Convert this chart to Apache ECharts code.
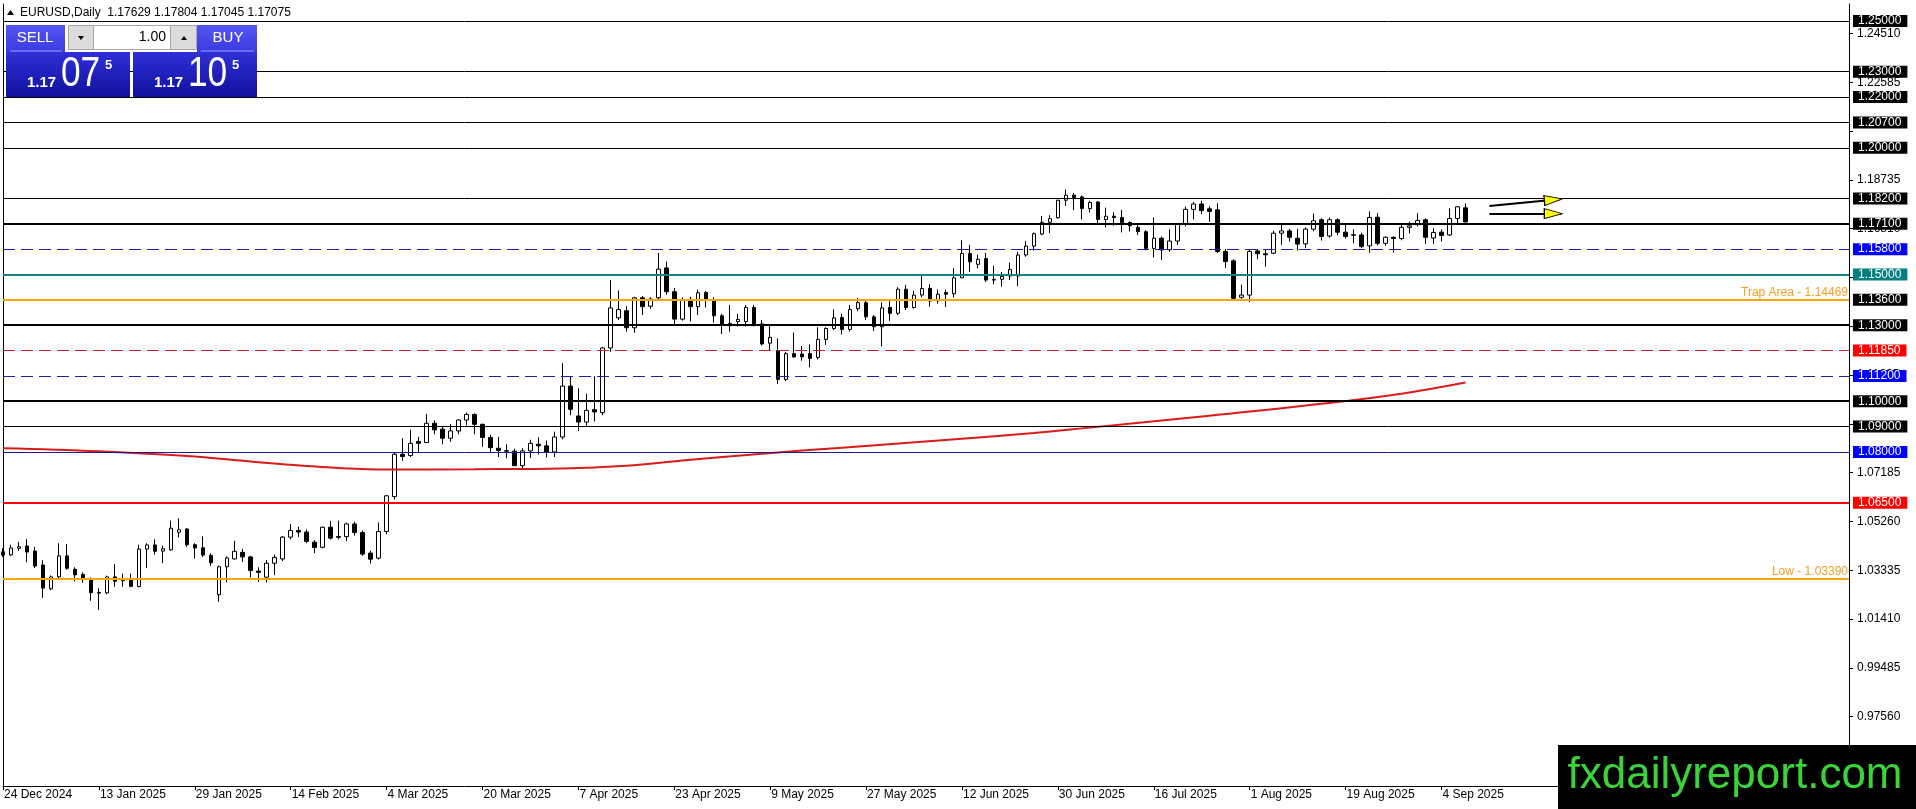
<!DOCTYPE html>
<html>
<head>
<meta charset="utf-8">
<title>EURUSD Daily</title>
<script src="https://cdn.jsdelivr.net/npm/echarts@6.0.0/dist/echarts.min.js"></script>
<style>
	html, body { margin: 0; padding: 0; background: #fff; }
	#chart-container { width: 1916px; height: 809px; }
</style>
</head>
<body>
<div id="chart-container"></div>
<script>
// 交易日（按月）
const tradingDays = [
	['Dec 2024', [24, 26, 27, 30, 31]],
	['Jan 2025', [2, 3, 6, 7, 8, 9, 10, 13, 14, 15, 16, 17, 20, 21, 22, 23, 24, 27, 28, 29, 30, 31]],
	['Feb 2025', [3, 4, 5, 6, 7, 10, 11, 12, 13, 14, 17, 18, 19, 20, 21, 24, 25, 26, 27, 28]],
	['Mar 2025', [3, 4, 5, 6, 7, 10, 11, 12, 13, 14, 17, 18, 19, 20, 21, 24, 25, 26, 27, 28, 31]],
	['Apr 2025', [1, 2, 3, 4, 7, 8, 9, 10, 11, 14, 15, 16, 17, 18, 21, 22, 23, 24, 25, 28, 29, 30]],
	['May 2025', [1, 2, 5, 6, 7, 8, 9, 12, 13, 14, 15, 16, 19, 20, 21, 22, 23, 26, 27, 28, 29, 30]],
	['Jun 2025', [2, 3, 4, 5, 6, 9, 10, 11, 12, 13, 16, 17, 18, 19, 20, 23, 24, 25, 26, 27, 30]],
	['Jul 2025', [1, 2, 3, 4, 7, 8, 9, 10, 11, 14, 15, 16, 17, 18, 21, 22, 23, 24, 25, 28, 29, 30, 31]],
	['Aug 2025', [1, 4, 5, 6, 7, 8, 11, 12, 13, 14, 15, 18, 19, 20, 21, 22, 25, 26, 27, 28, 29]],
	['Sep 2025', [1, 2, 3, 4, 5, 8, 9]],
]
const dates = tradingDays.flatMap(([month, days]) => days.map((d) => d + ' ' + month))

// [open, high, low, close]
const candles = [
	// Dec
	[1.0406, 1.0420, 1.0385, 1.0393], [1.0394, 1.0434, 1.0390, 1.0421], [1.0420, 1.0445, 1.0410, 1.0426],
	[1.0429, 1.0456, 1.0365, 1.0405], [1.0409, 1.0425, 1.0342, 1.0350],
	// Jan
	[1.0354, 1.0373, 1.0224, 1.0263], [1.0260, 1.0313, 1.0255, 1.0307], [1.0307, 1.0440, 1.0298, 1.0390],
	[1.0390, 1.0437, 1.0335, 1.0341], [1.0337, 1.0345, 1.0290, 1.0315], [1.0317, 1.0325, 1.0284, 1.0298],
	[1.0299, 1.0305, 1.0213, 1.0245], [1.0246, 1.0262, 1.0177, 1.0243], [1.0244, 1.0312, 1.0239, 1.0307],
	[1.0307, 1.0358, 1.0268, 1.0290], [1.0292, 1.0320, 1.0268, 1.0300], [1.0300, 1.0320, 1.0266, 1.0270],
	[1.0269, 1.0434, 1.0266, 1.0417], [1.0417, 1.0440, 1.0342, 1.0433], [1.0433, 1.0455, 1.0395, 1.0408],
	[1.0409, 1.0430, 1.0361, 1.0418], [1.0414, 1.0529, 1.0410, 1.0499], [1.0483, 1.0538, 1.0463, 1.0493],
	[1.0496, 1.0500, 1.0426, 1.0434], [1.0434, 1.0440, 1.0379, 1.0421], [1.0422, 1.0467, 1.0385, 1.0393],
	[1.0392, 1.0400, 1.0350, 1.0363],
	// Feb
	[1.0237, 1.0352, 1.0209, 1.0347], [1.0347, 1.0388, 1.0285, 1.0382], [1.0378, 1.0450, 1.0375, 1.0408],
	[1.0404, 1.0418, 1.0366, 1.0386], [1.0386, 1.0390, 1.0305, 1.0332], [1.0330, 1.0345, 1.0288, 1.0325],
	[1.0306, 1.0374, 1.0285, 1.0361], [1.0361, 1.0395, 1.0314, 1.0384], [1.0378, 1.0468, 1.0370, 1.0464],
	[1.0464, 1.0516, 1.0455, 1.0490], [1.0490, 1.0505, 1.0465, 1.0484], [1.0484, 1.0494, 1.0440, 1.0447],
	[1.0444, 1.0452, 1.0401, 1.0423], [1.0424, 1.0505, 1.0420, 1.0503], [1.0503, 1.0528, 1.0455, 1.0460],
	[1.0466, 1.0529, 1.0455, 1.0463], [1.0466, 1.0521, 1.0448, 1.0516], [1.0516, 1.0525, 1.0470, 1.0482],
	[1.0482, 1.0490, 1.0390, 1.0397], [1.0401, 1.0410, 1.0360, 1.0377],
	// Mar
	[1.0381, 1.0522, 1.0375, 1.0486], [1.0486, 1.0630, 1.0475, 1.0627], [1.0624, 1.0796, 1.0612, 1.0791],
	[1.0791, 1.0854, 1.0765, 1.0782], [1.0786, 1.0888, 1.0780, 1.0834], [1.0841, 1.0860, 1.0800, 1.0834],
	[1.0837, 1.0950, 1.0835, 1.0913], [1.0913, 1.0925, 1.0870, 1.0887], [1.0890, 1.0900, 1.0830, 1.0854],
	[1.0854, 1.0910, 1.0840, 1.0883], [1.0883, 1.0930, 1.0870, 1.0926], [1.0926, 1.0955, 1.0905, 1.0948],
	[1.0948, 1.0952, 1.0870, 1.0909], [1.0909, 1.0912, 1.0820, 1.0857], [1.0857, 1.0868, 1.0797, 1.0817],
	[1.0815, 1.0860, 1.0780, 1.0806], [1.0805, 1.0830, 1.0775, 1.0803], [1.0803, 1.0813, 1.0744, 1.0746],
	[1.0746, 1.0815, 1.0732, 1.0804], [1.0804, 1.0848, 1.0776, 1.0834], [1.0830, 1.0858, 1.0790, 1.0824],
	// Apr
	[1.0824, 1.0845, 1.0778, 1.0800], [1.0800, 1.0880, 1.0780, 1.0859], [1.0859, 1.1150, 1.0850, 1.1060],
	[1.1060, 1.1100, 1.0945, 1.0968], [1.0942, 1.1051, 1.0883, 1.0918], [1.0918, 1.1030, 1.0900, 1.0964],
	[1.0967, 1.1099, 1.0920, 1.0958], [1.0955, 1.1215, 1.0945, 1.1210], [1.1210, 1.1478, 1.1195, 1.1368],
	[1.1329, 1.1437, 1.1320, 1.1362], [1.1357, 1.1375, 1.1275, 1.1290], [1.1290, 1.1412, 1.1270, 1.1408],
	[1.1408, 1.1415, 1.1340, 1.1373], [1.1375, 1.1410, 1.1365, 1.1403], [1.1408, 1.1585, 1.1400, 1.1521],
	[1.1526, 1.1551, 1.1420, 1.1432], [1.1432, 1.1447, 1.1300, 1.1324], [1.1324, 1.1410, 1.1318, 1.1399],
	[1.1402, 1.1412, 1.1315, 1.1373], [1.1373, 1.1440, 1.1340, 1.1428], [1.1429, 1.1435, 1.1370, 1.1398],
	[1.1398, 1.1410, 1.1310, 1.1337],
	// May
	[1.1337, 1.1345, 1.1265, 1.1303], [1.1307, 1.1380, 1.1275, 1.1298], [1.1314, 1.1345, 1.1295, 1.1323],
	[1.1314, 1.1380, 1.1295, 1.1370], [1.1370, 1.1380, 1.1295, 1.1305], [1.1305, 1.1320, 1.1220, 1.1226],
	[1.1229, 1.1297, 1.1202, 1.1252], [1.1200, 1.1248, 1.1068, 1.1086], [1.1086, 1.1195, 1.1080, 1.1188],
	[1.1188, 1.1271, 1.1172, 1.1175], [1.1186, 1.1218, 1.1160, 1.1175], [1.1188, 1.1224, 1.1134, 1.1169],
	[1.1173, 1.1292, 1.1165, 1.1244], [1.1244, 1.1292, 1.1222, 1.1287], [1.1287, 1.1363, 1.1280, 1.1329],
	[1.1330, 1.1345, 1.1263, 1.1283], [1.1283, 1.1380, 1.1275, 1.1362], [1.1365, 1.1408, 1.1355, 1.1389],
	[1.1389, 1.1398, 1.1320, 1.1333], [1.1333, 1.1340, 1.1277, 1.1294], [1.1294, 1.1390, 1.1216, 1.1368],
	[1.1370, 1.1397, 1.1317, 1.1347],
	// Jun
	[1.1347, 1.1450, 1.1340, 1.1442], [1.1442, 1.1459, 1.1360, 1.1370], [1.1370, 1.1435, 1.1365, 1.1419],
	[1.1419, 1.1500, 1.1410, 1.1445], [1.1445, 1.1462, 1.1373, 1.1396], [1.1396, 1.1441, 1.1385, 1.1422],
	[1.1429, 1.1440, 1.1372, 1.1422], [1.1424, 1.1525, 1.1409, 1.1487], [1.1487, 1.1635, 1.1488, 1.1583],
	[1.1583, 1.1617, 1.1510, 1.1550], [1.1540, 1.1578, 1.1525, 1.1560], [1.1563, 1.1585, 1.1470, 1.1478],
	[1.1478, 1.1535, 1.1462, 1.1481], [1.1481, 1.1510, 1.1452, 1.1492], [1.1494, 1.1547, 1.1478, 1.1520],
	[1.1494, 1.1589, 1.1454, 1.1577], [1.1577, 1.1632, 1.1570, 1.1612], [1.1612, 1.1666, 1.1594, 1.1661],
	[1.1660, 1.1731, 1.1655, 1.1706], [1.1706, 1.1734, 1.1663, 1.1720], [1.1724, 1.1795, 1.1720, 1.1793],
	// Jul
	[1.1793, 1.1835, 1.1770, 1.1813], [1.1813, 1.1822, 1.1754, 1.1804], [1.1806, 1.1812, 1.1717, 1.1760],
	[1.1760, 1.1791, 1.1745, 1.1784], [1.1786, 1.1790, 1.1695, 1.1717], [1.1717, 1.1764, 1.1685, 1.1730],
	[1.1730, 1.1745, 1.1692, 1.1725], [1.1725, 1.1755, 1.1666, 1.1705], [1.1705, 1.1710, 1.1670, 1.1692],
	[1.1686, 1.1695, 1.1656, 1.1669], [1.1669, 1.1675, 1.1595, 1.1603], [1.1603, 1.1725, 1.1567, 1.1643],
	[1.1643, 1.1650, 1.1557, 1.1597], [1.1598, 1.1678, 1.1590, 1.1632], [1.1632, 1.1702, 1.1617, 1.1698],
	[1.1698, 1.1768, 1.1690, 1.1757], [1.1757, 1.1786, 1.1717, 1.1778], [1.1778, 1.1791, 1.1738, 1.1752],
	[1.1759, 1.1769, 1.1708, 1.1749], [1.1755, 1.1781, 1.1585, 1.1591], [1.1591, 1.1600, 1.1525, 1.1551],
	[1.1554, 1.1560, 1.1400, 1.1406], [1.1410, 1.1460, 1.1404, 1.1419],
	// Aug
	[1.1419, 1.1599, 1.1391, 1.1591], [1.1593, 1.1600, 1.1560, 1.1582], [1.1582, 1.1598, 1.1531, 1.1578],
	[1.1584, 1.1672, 1.1580, 1.1663], [1.1663, 1.1703, 1.1617, 1.1672], [1.1672, 1.1680, 1.1630, 1.1647],
	[1.1643, 1.1680, 1.1595, 1.1620], [1.1621, 1.1686, 1.1604, 1.1679], [1.1679, 1.1740, 1.1670, 1.1712],
	[1.1716, 1.1722, 1.1634, 1.1650], [1.1652, 1.1725, 1.1645, 1.1716], [1.1716, 1.1722, 1.1655, 1.1667],
	[1.1667, 1.1698, 1.1642, 1.1650], [1.1657, 1.1678, 1.1623, 1.1655], [1.1656, 1.1665, 1.1604, 1.1610],
	[1.1613, 1.1749, 1.1586, 1.1725], [1.1726, 1.1742, 1.1615, 1.1623], [1.1623, 1.1650, 1.1613, 1.1647],
	[1.1647, 1.1650, 1.1586, 1.1642], [1.1642, 1.1701, 1.1635, 1.1686], [1.1686, 1.1708, 1.1662, 1.1692],
	// Sep
	[1.1697, 1.1742, 1.1690, 1.1713], [1.1716, 1.1722, 1.1620, 1.1647], [1.1644, 1.1684, 1.1620, 1.1666],
	[1.1667, 1.1678, 1.1630, 1.1654], [1.1656, 1.1761, 1.1652, 1.1721], [1.1721, 1.1770, 1.1700, 1.1767],
	[1.17629, 1.17804, 1.17045, 1.17075],
]

// 均线读数 [bar, value]
const maPoints = [
	[0, 1.0815], [12, 1.0803], [24, 1.0782], [31, 1.0762], [38, 1.0745], [47, 1.0731], [59, 1.0732],
	[70, 1.0735], [78, 1.0746], [85, 1.0766], [95, 1.0793], [105, 1.0817], [120, 1.0852], [129, 1.0875],
	[135, 1.0893], [150, 1.0940], [165, 1.0990], [175, 1.1030], [183, 1.1074],
]

// 水平价位
const levels = [1.25, 1.23, 1.22, 1.207, 1.2, 1.182, 1.171, 1.158, 1.15, 1.136, 1.13, 1.1185, 1.112, 1.1, 1.09, 1.08, 1.065]
const trapLevel = 1.14469
const lowLevel = 1.0339
const topLevel = 1.2562

// 价格刻度，以及被价位框完全盖住、不显示文字的刻度
const priceTicks = [0.9756, 0.99485, 1.0141, 1.03335, 1.0526, 1.07185, 1.0911, 1.11035, 1.1296, 1.14885, 1.1681, 1.18735, 1.2066, 1.22585, 1.2451]
const coveredTicks = [1.0911, 1.1296, 1.14885, 1.2066]

// 箭头 [bar, price]
const arrowFrom = [[186, 1.1770], [186, 1.1740]]
const arrowTo = [[195, 1.1798], [195, 1.1740]]
const arrowHead = [[194, 1.1795], [194, 1.1740]]

const spread = 0.0003
const slots = 232

// ---------------------------------------------------------------
const FONT = 'Liberation Sans'
const PRICE_MIN = 0.94822
const PRICE_MAX = 1.25671

const looks = {
	thin: { line: { color: '#000', width: 1, type: 'solid' }, box: '#000' },
	thick: { line: { color: '#000', width: 2, type: 'solid' }, box: '#000' },
	blueDash: { line: { color: '#2020a8', width: 1, type: [12, 6] }, box: '#0000ff' },
	teal: { line: { color: '#1a8080', width: 2, type: 'solid' }, box: '#008080' },
	redDash: { line: { color: '#c82020', width: 1, type: [12, 6] }, box: '#ff0000' },
	navy: { line: { color: '#1a1a8c', width: 1, type: 'solid' }, box: '#0000ff' },
	red: { line: { color: '#ff0000', width: 2, type: 'solid' }, box: '#ff0000' },
}
const levelLook = ['thin', 'thin', 'thin', 'thin', 'thin', 'thin', 'thick', 'blueDash', 'teal', 'thick', 'thick',
	'redDash', 'blueDash', 'thick', 'thin', 'navy', 'red']

let categories = dates.slice()
for (let i = dates.length; i < slots; i++) categories.push('f' + i)

let showIdx = (idx) => idx % 12 === 0 && idx < dates.length
let labelTicks = priceTicks.filter((v) => coveredTicks.indexOf(v) < 0)

let levelData = levels.map((v, i) => {
	let look = looks[levelLook[i]]
	return {
		yAxis: v,
		lineStyle: look.line,
		label: {
			show: true,
			position: 'end',
			distance: 4,
			formatter: v.toFixed(5),
			color: '#fff',
			backgroundColor: look.box,
			fontFamily: FONT,
			fontSize: 12,
			lineHeight: 12,
			padding: [0, 6, 0, 5],
		},
	}
})
function textLevel(v, text) {
	return {
		yAxis: v,
		lineStyle: { color: '#ffa500', width: 2, type: 'solid' },
		label: {
			show: true,
			position: 'insideEndTop',
			distance: 1,
			formatter: text + v.toFixed(5),
			color: '#f0a020',
			fontFamily: FONT,
			fontSize: 12,
		},
	}
}
levelData.push(textLevel(trapLevel, 'Trap Area - '))
levelData.push(textLevel(lowLevel, 'Low - '))
levelData.push({ yAxis: topLevel, lineStyle: { color: '#ffa500', width: 3, type: 'solid' }, label: { show: false } })

let arrowLines = arrowFrom.map((a, i) => [
	{ coord: a, lineStyle: { color: '#000', width: 2, type: 'solid' }, label: { show: false } },
	{ coord: arrowTo[i] },
])

// 顶部交易面板
let last = candles[candles.length - 1]
let bid = last[3].toFixed(5)
let ask = (last[3] + spread).toFixed(5)

function grad(top, bottom) {
	return new echarts.graphic.LinearGradient(0, 0, 0, 1, [
		{ offset: 0, color: top },
		{ offset: 1, color: bottom },
	])
}
function txt(x, y, text, size, fill, align) {
	return {
		type: 'text',
		x: x,
		y: y,
		z: 100,
		style: {
			text: text,
			fill: fill || '#fff',
			fontFamily: FONT,
			fontSize: size,
			align: align || 'left',
			verticalAlign: 'middle',
		},
	}
}
function rect(x, y, w, h, fill, stroke) {
	return { type: 'rect', z: 100, shape: { x: x, y: y, width: w, height: h }, style: { fill: fill, stroke: stroke || null, lineWidth: 1 } }
}
function priceBox(x0, price) {
	let t1 = txt(x0 + 21, 83, price.slice(0, 4), 15)
	t1.style.fontWeight = 'bold'
	let t2 = txt(x0 + 55, 74, price.slice(4, 6), 43)
	t2.scaleX = 0.82
	let t3 = txt(x0 + 99, 65, price.slice(6), 13)
	t3.style.fontWeight = 'bold'
	return [rect(x0, 52, 124, 45, grad('#3030d8', '#10109c')), t1, t2, t3]
}

let header = ['EURUSD,Daily '].concat(last.map((v) => v.toFixed(5))).join(' ')

let graphics = [
	{ type: 'polygon', z: 100, shape: { points: [[7, 15], [14, 15], [10.5, 10]] }, style: { fill: '#000' } },
	txt(20, 13, header, 12, '#000'),
	rect(6, 25, 59, 27, grad('#5656f2', '#3a3ae0')),
	rect(197, 25, 60, 27, grad('#5656f2', '#3a3ae0')),
	{ type: 'line', z: 101, shape: { x1: 10, y1: 51, x2: 62, y2: 51 }, style: { stroke: '#9a9aff', lineWidth: 1 } },
	{ type: 'line', z: 101, shape: { x1: 201, y1: 51, x2: 254, y2: 51 }, style: { stroke: '#9a9aff', lineWidth: 1 } },
	txt(35, 38, 'SELL', 15, '#fff', 'center'),
	txt(228, 38, 'BUY', 15, '#fff', 'center'),
	rect(68.5, 25.5, 25, 24, '#dcdcdc', '#a8a8a8'),
	rect(93.5, 25.5, 77, 24, '#fff', '#a8a8a8'),
	rect(170.5, 25.5, 26, 24, '#dcdcdc', '#a8a8a8'),
	{ type: 'polygon', z: 101, shape: { points: [[78, 36], [84, 36], [81, 40]] }, style: { fill: '#000' } },
	{ type: 'polygon', z: 101, shape: { points: [[181, 40], [187, 40], [184, 36]] }, style: { fill: '#000' } },
	txt(166, 37.5, '1.00', 14, '#000', 'right'),
]
graphics = graphics.concat(priceBox(6, bid), priceBox(133, ask))

// 水印
graphics.push(rect(1558, 745, 358, 64, '#000'))
graphics.push(txt(1735, 776, 'fxdailyreport.com', 44, '#3ad43a', 'center'))

let option = {
	animation: false,
	backgroundColor: '#fff',
	textStyle: { fontFamily: FONT },
	grid: {
		left: 3,
		right: 67,
		top: 4,
		bottom: 23,
		containLabel: false,
		outerBoundsMode: 'none',
	},
	xAxis: {
		type: 'category',
		data: categories,
		boundaryGap: false,
		axisLine: { lineStyle: { color: '#000', width: 1 } },
		axisTick: { interval: showIdx, length: 4, lineStyle: { color: '#000' } },
		axisLabel: {
			interval: showIdx,
			align: 'left',
			margin: 3,
			color: '#000',
			fontFamily: FONT,
			fontSize: 12,
			padding: [0, 0, 0, 1],
		},
		splitLine: { show: false },
	},
	yAxis: [
		{
			type: 'value',
			position: 'right',
			min: PRICE_MIN,
			max: PRICE_MAX,
			axisLine: { show: true, lineStyle: { color: '#000', width: 1 } },
			axisTick: { show: true, length: 4, customValues: priceTicks, lineStyle: { color: '#000' } },
			axisLabel: {
				customValues: labelTicks,
				formatter: (v) => v.toFixed(5),
				margin: 8,
				color: '#000',
				fontFamily: FONT,
				fontSize: 12,
			},
			splitLine: { show: false },
		},
		{
			// 左边框
			type: 'value',
			position: 'left',
			min: PRICE_MIN,
			max: PRICE_MAX,
			axisLine: { show: true, lineStyle: { color: '#000', width: 1 } },
			axisTick: { show: false },
			axisLabel: { show: false },
			splitLine: { show: false },
		},
	],
	series: [
		{
			id: 'price',
			type: 'candlestick',
			z: 2,
			barWidth: 4,
			data: candles.map(([o, h, l, c]) => [o, c, l, h]),
			itemStyle: {
				color: '#fff',
				color0: '#000',
				borderColor: '#000',
				borderColor0: '#000',
				borderWidth: 1,
			},
		},
		{
			id: 'ma',
			type: 'line',
			z: 3,
			data: maPoints,
			smooth: 0.4,
			showSymbol: false,
			connectNulls: true,
			lineStyle: { color: '#d81c1c', width: 2 },
		},
		{
			id: 'objects',
			type: 'line',
			z: 4,
			data: [],
			markLine: {
				silent: true,
				animation: false,
				symbol: ['none', 'none'],
				data: levelData.concat(arrowLines),
			},
		},
	],
	graphic: graphics,
}

initChart()
function initChart() {
	let chart = echarts.init(document.getElementById('chart-container'))
	chart.setOption(option)

	// 箭头方向用像素计算
	let heads = arrowHead.map((h, i) => {
		let p1 = chart.convertToPixel({ gridIndex: 0 }, arrowFrom[i])
		let p2 = chart.convertToPixel({ gridIndex: 0 }, arrowTo[i])
		let ang = (Math.atan2(p1[1] - p2[1], p2[0] - p1[0]) * 180) / Math.PI
		return { coord: h, symbolRotate: ang - 90 }
	})
	chart.setOption({
		series: [
			{
				id: 'objects',
				markPoint: {
					silent: true,
					animation: false,
					symbol: 'triangle',
					symbolSize: [10, 18],
					itemStyle: { color: '#ffff00', borderColor: '#000', borderWidth: 1 },
					label: { show: false },
					data: heads,
				},
			},
		],
	})
}
</script>
</body>
</html>
